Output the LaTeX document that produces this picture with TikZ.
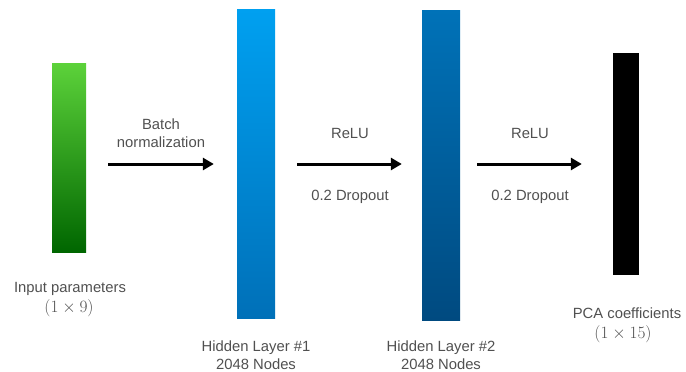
\documentclass[tikz,border=0pt]{standalone}
\usepackage{fontspec}
\setmainfont{Liberation Sans}
\usetikzlibrary{arrows.meta}
\definecolor{txtgray}{HTML}{505050}
\begin{document}
\begin{tikzpicture}[x=1pt,y=-1pt,
  bar/.style={rectangle,inner sep=0pt,draw=none},
  lbl/.style={text=txtgray,font=\fontsize{14.8}{18}\selectfont,align=center,inner sep=0pt},
  mlbl/.style={text=txtgray,font=\fontsize{17.5}{18}\selectfont,inner sep=0pt},
  arr/.style={line width=3pt,-{Triangle[length=11pt,width=12pt]}}]
\useasboundingbox (0,0) rectangle (686,372);
% layer bars
\node[bar,minimum width=34pt,minimum height=189pt,top color={rgb,255:red,92;green,210;blue,58},bottom color={rgb,255:red,0;green,102;blue,0}] (in) at (69,157.5) {};
\node[bar,minimum width=38pt,minimum height=309pt,top color={rgb,255:red,0;green,160;blue,240},bottom color={rgb,255:red,0;green,112;blue,184}] (h1) at (256,164) {};
\node[bar,minimum width=38pt,minimum height=310pt,top color={rgb,255:red,0;green,114;blue,184},bottom color={rgb,255:red,0;green,74;blue,128}] (h2) at (441,165) {};
\node[bar,minimum width=26pt,minimum height=222pt,fill=black] (out) at (626,164) {};
% connectors
\coordinate (a1s) at (108,164);
\coordinate (a2s) at (297,164);
\coordinate (a3s) at (477,164);
\draw[arr] (a1s) -- ([xshift=-23pt]h1.west |- a1s);
\draw[arr] (a2s) -- ([xshift=-20pt]h2.west |- a2s);
\draw[arr] (a3s) -- ([xshift=-31pt]out.west |- a3s);
% labels
\node[lbl] (bn) at (161,133.5) {Batch\\normalization};
\node[lbl] (r1) at (350,133) {ReLU};
\node[lbl] (d1) at (350,197) {0.2 Dropout};
\node[lbl] (r2) at (530,133) {ReLU};
\node[lbl] (d2) at (530,197) {0.2 Dropout};
\node[lbl] (inl) at (70,289) {Input parameters};
\node[mlbl] (ins) at (69,308) {$(1\times 9)$};
\node[lbl] (h1l) at (256,355) {Hidden Layer \#1\\2048 Nodes};
\node[lbl] (h2l) at (441,355) {Hidden Layer \#2\\2048 Nodes};
\node[lbl] (outl) at (627,313) {PCA coefficients};
\node[mlbl] (outs) at (623,334) {$(1\times 15)$};
\end{tikzpicture}
\end{document}
